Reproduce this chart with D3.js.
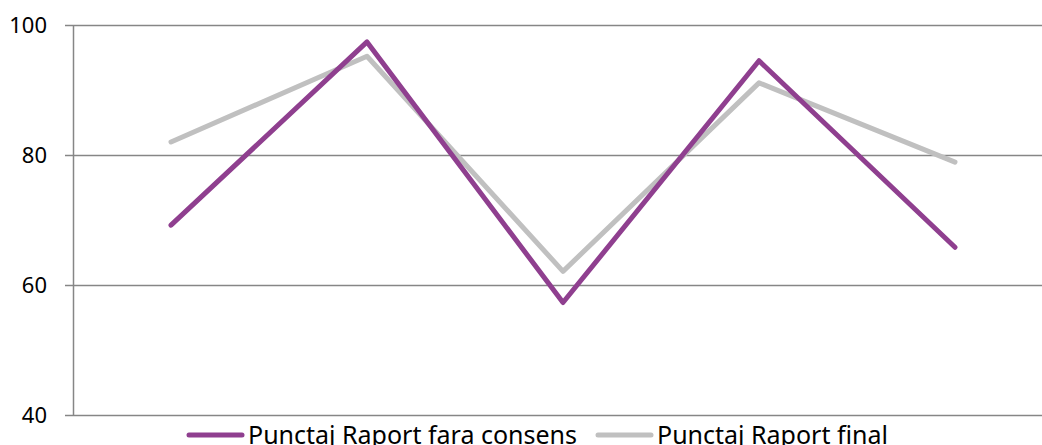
<!DOCTYPE html>
<html>
<head>
<meta charset="utf-8">
<script src="https://cdn.jsdelivr.net/npm/d3@7"></script>
<style>
  body { margin: 0; background: #fff; }
  svg text { font-family: "Noto Sans", "Liberation Sans", sans-serif; fill: #000; }
</style>
</head>
<body>
<div id="chart"></div>
<script>
const categories = ['1', '2', '3', '4', '5'];
const series_names = ['Punctaj Raport fara consens', 'Punctaj Raport final'];
const fara_consens = [69.2, 97.4, 57.3, 94.5, 65.8];
const raport_final = [82.0, 95.2, 62.1, 91.1, 78.9];
const y_ticks = [40, 60, 80, 100];
const colors = ['#8f3f8f', '#c0c0c0'];

const figure_width = 1042;
const figure_height = 445;
const margin = {top: 25, left: 73, bottom: 30};
const band = 196;
const axes_width = band * categories.length;
const axes_height = figure_height - margin.top - margin.bottom;

const svg = d3.select('#chart')
  .append('svg')
    .attr('width', figure_width)
    .attr('height', figure_height);

const g = svg.append('g')
  .attr('transform', 'translate(' + margin.left + ',' + margin.top + ')');

const x = d3.scaleBand()
  .domain(categories)
  .range([0, axes_width]);

const y = d3.scaleLinear()
  .domain([40, 100])
  .range([axes_height, 0]);

// horizontal gridlines with small ticks sticking left of the axis
g.append('g')
  .selectAll('line')
  .data(y_ticks)
  .join('line')
    .attr('x1', -8)
    .attr('x2', axes_width)
    .attr('y1', d => y(d) + 0.5)
    .attr('y2', d => y(d) + 0.5)
    .attr('stroke', '#868686')
    .attr('stroke-width', 1.5);

g.append('line')
  .attr('x1', 0.5).attr('x2', 0.5)
  .attr('y1', 0).attr('y2', axes_height)
  .attr('stroke', '#868686')
  .attr('stroke-width', 1.5);

g.append('g')
  .selectAll('text')
  .data(y_ticks)
  .join('text')
    .attr('x', -26)
    .attr('y', d => y(d))
    .attr('dy', '0.35em')
    .attr('text-anchor', 'end')
    .style('font-size', '22px')
    .text(d => d);

const line = d3.line()
  .x((d, i) => x(categories[i]) + x.bandwidth() / 2)
  .y(d => y(d));

// gray first so the purple line sits on top
[raport_final, fara_consens].forEach((values, k) => {
  g.append('path')
    .datum(values)
    .attr('fill', 'none')
    .attr('stroke', colors[1 - k])
    .attr('stroke-width', 5)
    .attr('stroke-linecap', 'round')
    .attr('stroke-linejoin', 'round')
    .attr('d', line);
});

// legend (sits at the bottom edge, partly clipped as in the original)
const legend_x = [189, 598];
const legend = svg.append('g')
  .selectAll('g')
  .data(series_names)
  .join('g')
    .attr('transform', (d, i) => 'translate(' + legend_x[i] + ',435)');

legend.append('line')
  .attr('x1', 0).attr('x2', 53)
  .attr('stroke', (d, i) => colors[i])
  .attr('stroke-width', 5)
  .attr('stroke-linecap', 'round');

legend.append('text')
  .attr('x', 59)
  .attr('y', 0)
  .attr('dy', '0.35em')
  .style('font-size', '25px')
  .text(d => d);
</script>
</body>
</html>
